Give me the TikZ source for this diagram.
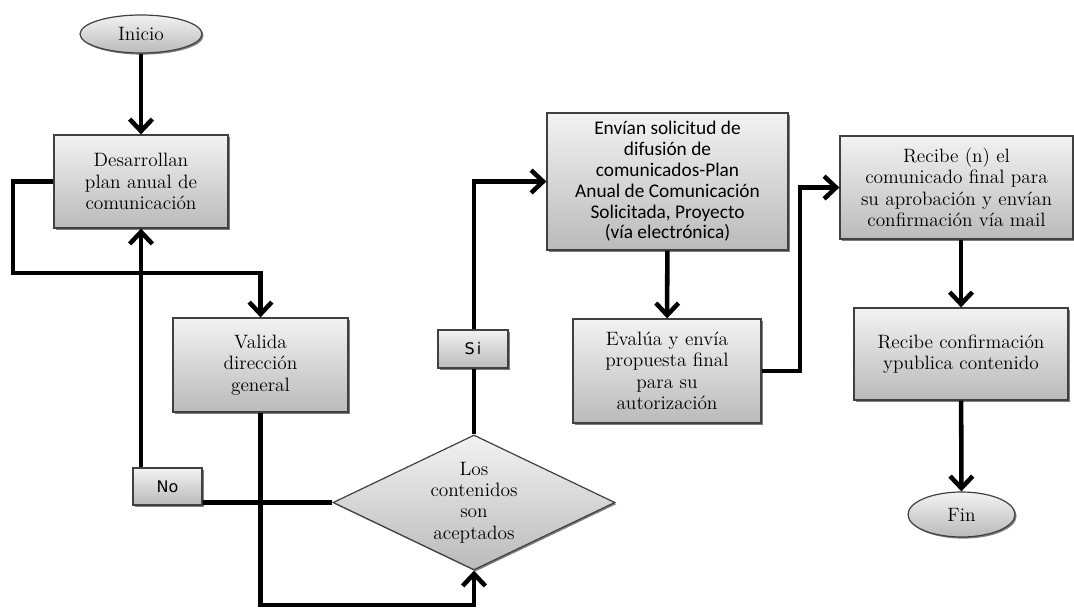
\documentclass[tikz,border=0pt]{standalone}
\usepackage{fontspec}
\newfontfamily\boxsans{Carlito}
\newfontfamily\tagsans{DejaVu Sans}
\usetikzlibrary{arrows.meta,shapes.geometric,shadows}

\begin{document}
\begin{tikzpicture}[x=0.75pt,y=-0.75pt,
  flow/.style={line width=3.4pt,-{Straight Barb[length=9pt,width=17pt]}},
  shaded/.style={draw=black!75,line width=0.9pt,top color=black!5,bottom color=black!27,
    drop shadow={shadow xshift=1.2pt,shadow yshift=-1.2pt,opacity=0.5,fill=black}},
  procbox/.style={shaded,rectangle,align=center,inner sep=2pt,
    font=\fontsize{14.5}{16}\selectfont},
  term/.style={shaded,ellipse,inner sep=0pt,font=\fontsize{14.5}{16}\selectfont},
  decision/.style={shaded,diamond,aspect=2.09,inner sep=0pt,align=center,
    minimum width=211.5pt,minimum height=101.25pt,font=\fontsize{14.5}{16}\selectfont},
  tag/.style={shaded,rectangle,inner sep=0pt,font=\tagsans\fontsize{12}{14}\selectfont}
]
\useasboundingbox (0,0) rectangle (1074,607);

% start / end
\node[term,minimum width=91.5pt,minimum height=28.5pt] (ini) at (141,34) {Inicio};
\node[term,minimum width=80.25pt,minimum height=33.75pt] (fin) at (961.5,514.5) {Fin};

% process steps
\node[procbox,minimum width=130.5pt,minimum height=69.75pt] (des) at (141,181.5)
  {Desarrollan\\plan anual de\\comunicación};
\node[procbox,minimum width=131.25pt,minimum height=70.5pt] (val) at (260.5,365)
  {Valida\\dirección\\general};
\node[decision] (dia) at (474,502.5) {Los\\contenidos\\son\\aceptados};
\node[procbox,minimum width=180.75pt,minimum height=102.75pt,
  font=\boxsans\fontsize{14.5}{15.6}\selectfont] (env) at (667.5,181.5)
  {Envían solicitud de\\difusión de\\comunicados-Plan\\Anual de Comunicación\\Solicitada, Proyecto\\(vía electrónica)};
\node[procbox,minimum width=141pt,minimum height=78pt] (eva) at (667,371)
  {Evalúa y envía\\propuesta final\\para su\\autorización};
\node[procbox,minimum width=174.75pt,minimum height=77.25pt] (rec) at (956.5,187.5)
  {Recibe (n) el\\comunicado final para\\su aprobación y envían\\confirmación vía mail};
\node[procbox,minimum width=160.5pt,minimum height=69pt] (conf) at (961,354)
  {Recibe confirmación\\ypublica contenido};

% bends of the routed connectors
\coordinate (loopL) at (13,273);
\coordinate (loopB) at (474,605);
\coordinate (evaR) at (800,371);

% connectors
\draw[flow] (ini) -- (des);
\draw[flow] (des.west) -| (loopL) -| (val.north);
\draw[flow] (val.south) |- (loopB) -- (dia.south);
\draw[flow] (dia.west) -| (des.south);
\draw[flow] (dia.north) |- (env.west);
\draw[flow] (env) -- (eva);
\draw[flow] (eva.east) -- (evaR) |- (rec.west);
\draw[flow] (conf.north |- rec.south) -- (conf.north);
\draw[flow] (conf) -- (fin);

% branch labels sitting on the connectors
\node[tag,minimum width=51.75pt,minimum height=27.75pt] (no) at (167.5,486.5) {No};
\node[tag,minimum width=52.5pt,minimum height=28.5pt] (si) at (473,349) {S\kern1.5pt i};
\end{tikzpicture}
\end{document}
